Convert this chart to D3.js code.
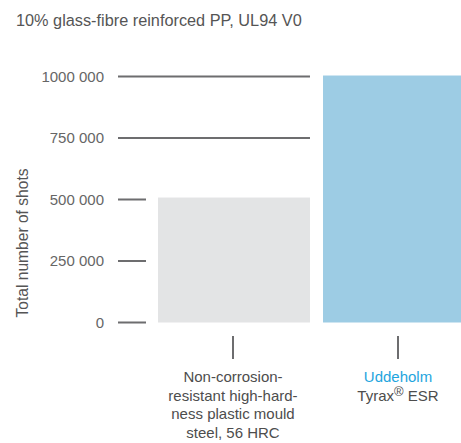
<!DOCTYPE html>
<html>
<head>
<meta charset="utf-8">
<script src="https://cdn.jsdelivr.net/npm/d3@7"></script>
<style>
  body { margin: 0; background: #fff; }
  text { font-family: "Liberation Sans", Arial, Helvetica, sans-serif; }
</style>
</head>
<body>
<div id="chart"></div>
<script>
// data
var categories = ["steel56", "tyrax"];
var shots = [508000, 1004000];
var tickValues = [0, 250000, 500000, 750000, 1000000];
var tickLabels = ["0", "250 000", "500 000", "750 000", "1000 000"];
var catLabels = [
  ["Non-corrosion-", "resistant high-hard-", "ness plastic mould", "steel, 56 HRC"],
  ["Uddeholm", "Tyrax"]
];
var barColors = ["#e3e4e5", "#9dcce4"];

var svgWidth = 461, svgHeight = 443;

var svg = d3.select("#chart")
  .append("svg")
  .attr("width", svgWidth)
  .attr("height", svgHeight);

// title
svg.append("text")
  .attr("x", 16)
  .attr("y", 26)
  .attr("fill", "#555")
  .style("font-size", "16.3px")
  .text("10% glass-fibre reinforced PP, UL94 V0");

var x = d3.scaleBand()
  .domain(categories)
  .range([158, 475])
  .paddingInner(0.079);

var y = d3.scaleLinear()
  .domain([0, 1000000])
  .range([322.5, 76.5]);

var lineLeft = 118;

// gridlines / ticks on the left
svg.append("g").selectAll("line")
  .data(tickValues)
  .enter()
  .append("line")
  .attr("x1", lineLeft)
  .attr("x2", x(categories[0]) + x.bandwidth())
  .attr("y1", d => y(d))
  .attr("y2", d => y(d))
  .attr("stroke", "#6d6d6f")
  .attr("stroke-width", 2);

// white gap around bars, then bars
var bars = svg.append("g");
bars.selectAll("rect.gap")
  .data(shots)
  .enter()
  .append("rect")
  .attr("class", "gap")
  .attr("x", (d, i) => x(categories[i]) - 12)
  .attr("width", x.bandwidth() + 24)
  .attr("y", d => y(d) - 1)
  .attr("height", d => y(0) - y(d) + 3)
  .attr("fill", "#fff");

bars.selectAll("rect.bar")
  .data(shots)
  .enter()
  .append("rect")
  .attr("class", "bar")
  .attr("x", (d, i) => x(categories[i]))
  .attr("width", x.bandwidth())
  .attr("y", d => y(d))
  .attr("height", d => y(0) - y(d))
  .attr("fill", (d, i) => barColors[i]);

// tick labels
svg.append("g").selectAll("text")
  .data(tickValues)
  .enter()
  .append("text")
  .attr("x", 104)
  .attr("y", d => y(d) + 5)
  .attr("text-anchor", "end")
  .attr("fill", "#666")
  .style("font-size", "15px")
  .text((d, i) => tickLabels[i]);

// y axis title
svg.append("text")
  .attr("transform", "translate(28, 243) rotate(-90)")
  .attr("text-anchor", "middle")
  .attr("fill", "#555")
  .style("font-size", "15.6px")
  .text("Total number of shots");

// category ticks below bars
svg.append("g").selectAll("line")
  .data(categories)
  .enter()
  .append("line")
  .attr("x1", d => x(d) + x.bandwidth() / 2 - 1)
  .attr("x2", d => x(d) + x.bandwidth() / 2 - 1)
  .attr("y1", 336)
  .attr("y2", 359)
  .attr("stroke", "#6d6d6f")
  .attr("stroke-width", 2);

// category labels
var labelGroup = svg.append("g");
catLabels.forEach(function(lines, i) {
  var cx = x(categories[i]) + x.bandwidth() / 2 - 1;
  lines.forEach(function(line, j) {
    var t = labelGroup.append("text")
      .attr("x", cx)
      .attr("y", 382 + j * 18.7)
      .attr("text-anchor", "middle")
      .attr("fill", (i === 1 && j === 0) ? "#1ea5de" : "#4d4d4d")
      .style("font-size", "15px")
      .text(line);
    if (i === 1 && j === 1) {
      t.text(null);
      t.append("tspan").text(line);
      t.append("tspan").attr("dy", -5).style("font-size", "13px").text("\u00AE");
      t.append("tspan").attr("dy", 5).text(" ESR");
    }
  });
});
</script>
</body>
</html>
